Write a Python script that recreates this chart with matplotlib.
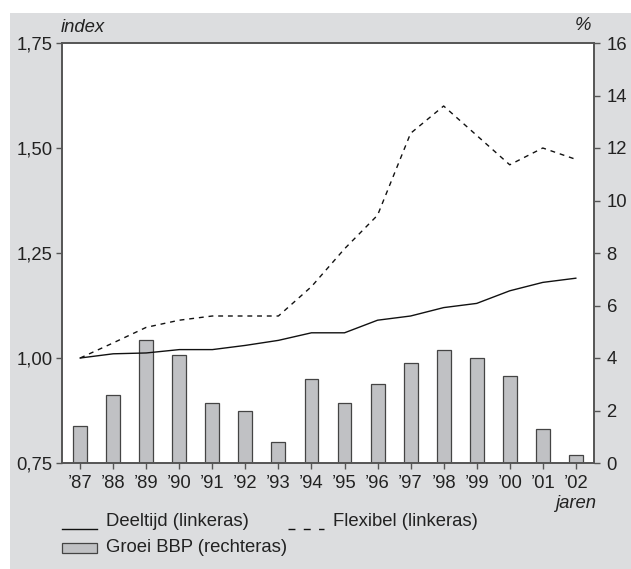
import matplotlib.pyplot as plt
from matplotlib.lines import Line2D
from matplotlib.patches import Rectangle

plt.rcParams['font.family'] = ['Liberation Sans', 'DejaVu Sans']

years = ['\u201987', '\u201988', '\u201989', '\u201990', '\u201991', '\u201992', '\u201993', '\u201994',
         '\u201995', '\u201996', '\u201997', '\u201998', '\u201999', '\u201900', '\u201901', '\u201902']
deeltijd = [1.00, 1.01, 1.012, 1.02, 1.02, 1.03, 1.042, 1.06, 1.06, 1.09, 1.10, 1.12, 1.13, 1.16, 1.18, 1.19]
flexibel = [1.00, 1.036, 1.073, 1.09, 1.10, 1.10, 1.10, 1.17, 1.26, 1.34, 1.535, 1.60, 1.53, 1.46, 1.50, 1.473]
groei_bbp = [1.4, 2.6, 4.7, 4.1, 2.3, 2.0, 0.8, 3.2, 2.3, 3.0, 3.8, 4.3, 4.0, 3.3, 1.3, 0.3]

left_ticks = [0.75, 1.00, 1.25, 1.50, 1.75]
left_labels = ['0,75', '1,00', '1,25', '1,50', '1,75']
right_ticks = [0, 2, 4, 6, 8, 10, 12, 14, 16]

bg = '#dcdddf'
bar_col = '#c0c1c4'
spine_col = '#555555'
txt_col = '#222222'
fs = 13.3

fig = plt.figure(figsize=(6.31, 5.69), dpi=100)
fig.patch.set_facecolor('white')
fig.patches.append(Rectangle((10 / 631, 0), 1, 1 - 13 / 569, transform=fig.transFigure,
                             facecolor=bg, edgecolor='none', zorder=-10))

ax = fig.add_axes([62 / 631, 1 - 463 / 569, (594 - 62) / 631, (463 - 43) / 569])
ax2 = ax.twinx()
x = list(range(len(years)))

# bars on right axis, lines on left axis (drawn on top)
ax2.bar(x, groei_bbp, width=0.42, color=bar_col, edgecolor='#444444', linewidth=0.9)
ax2.set_ylim(0, 16)
ax2.set_yticks(right_ticks)
ax2.set_yticklabels([str(t) for t in right_ticks])

ax2.set_zorder(1)
ax.set_zorder(2)
ax.patch.set_visible(False)
ax2.patch.set_visible(True)
ax2.patch.set_facecolor('white')

ax.plot(x, deeltijd, color='#111111', linewidth=1.0)
ax.plot(x, flexibel, color='#111111', linewidth=1.0, linestyle=(0, (3.5, 3.5)))
ax.set_ylim(0.75, 1.75)
ax.set_xlim(-0.55, 15.55)
ax.set_yticks(left_ticks)
ax.set_yticklabels(left_labels)
ax.set_xticks(x)
ax.set_xticklabels(years)

for a in (ax, ax2):
    for s in a.spines.values():
        s.set_color(spine_col)
        s.set_linewidth(1.2)
    a.tick_params(colors=spine_col, labelcolor=txt_col, labelsize=fs, length=4, width=1)
ax.tick_params(axis='x', pad=5)
ax.tick_params(axis='y', pad=3)
ax2.tick_params(axis='y', pad=5)

fig.text(61 / 631, 1 - 27 / 569, 'index', style='italic', fontsize=fs, color=txt_col, va='center', ha='left')
fig.text(591 / 631, 1 - 26 / 569, '%', style='italic', fontsize=fs, color=txt_col, va='center', ha='right')
fig.text(596 / 631, 1 - 504 / 569, 'jaren', style='italic', fontsize=fs, color=txt_col, va='center', ha='right')

# legend
fig.lines.append(Line2D([62 / 631, 97 / 631], [1 - 529 / 569] * 2, transform=fig.transFigure,
                        color='#111111', linewidth=1.0))
fig.text(106 / 631, 1 - 522 / 569, 'Deeltijd (linkeras)', fontsize=fs, color=txt_col, va='center')
fig.lines.append(Line2D([288 / 631, 324 / 631], [1 - 529 / 569] * 2, transform=fig.transFigure,
                        color='#111111', linewidth=1.0, linestyle=(0, (5, 6))))
fig.text(333 / 631, 1 - 522 / 569, 'Flexibel (linkeras)', fontsize=fs, color=txt_col, va='center')
fig.patches.append(Rectangle((62 / 631, 1 - 553 / 569), 35 / 631, 10 / 569, transform=fig.transFigure,
                             facecolor=bar_col, edgecolor='#444444', linewidth=0.9))
fig.text(106 / 631, 1 - 548 / 569, 'Groei BBP (rechteras)', fontsize=fs, color=txt_col, va='center')

fig.savefig('out.png', dpi=100, facecolor=fig.get_facecolor())
